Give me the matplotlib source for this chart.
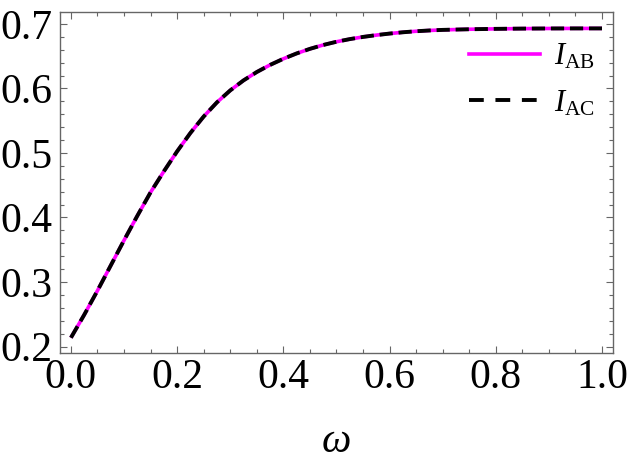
import matplotlib
matplotlib.use("Agg")
import matplotlib.pyplot as plt
from matplotlib.lines import Line2D
from matplotlib.ticker import MultipleLocator

# values
omega = [0.000, 0.025, 0.050, 0.075, 0.100, 0.125, 0.150, 0.175, 0.200,
         0.225, 0.250, 0.275, 0.300, 0.325, 0.350, 0.375, 0.400, 0.425,
         0.450, 0.475, 0.500, 0.525, 0.550, 0.575, 0.600, 0.625, 0.650,
         0.675, 0.700, 0.750, 0.800, 0.850, 0.900, 0.950, 1.000]
I_AB = [0.2136, 0.2491, 0.2866, 0.3256, 0.3646, 0.4025, 0.4390, 0.4715,
        0.5025, 0.5310, 0.5565, 0.5785, 0.5970, 0.6125, 0.6255, 0.6365,
        0.6460, 0.6543, 0.6614, 0.6674, 0.6724, 0.6765, 0.6799, 0.6827,
        0.6851, 0.6871, 0.6887, 0.6899, 0.6908, 0.6918, 0.6924, 0.6928,
        0.6930, 0.6931, 0.6931]
I_AC = list(I_AB)

plt.rcParams["font.family"] = ["Liberation Serif", "DejaVu Serif"]
plt.rcParams["mathtext.fontset"] = "custom"
plt.rcParams["mathtext.rm"] = "Liberation Serif"
plt.rcParams["mathtext.it"] = "Liberation Serif:italic"

fig = plt.figure(figsize=(6.31, 4.69), dpi=100)
ax = fig.add_axes([59.5 / 631, 1 - 352.5 / 469, 553 / 631, 340.8 / 469])

ax.plot(omega, I_AB, color="#ff00ff", lw=2.6, solid_capstyle="butt")
ax.plot(omega, I_AC, color="black", lw=2.8, dashes=(3.4, 1.5))

ax.set_xlim(-0.0215, 1.0198)
ax.set_ylim(0.1907, 0.7190)
ax.xaxis.set_major_locator(MultipleLocator(0.2))
ax.xaxis.set_minor_locator(MultipleLocator(0.05))
ax.yaxis.set_major_locator(MultipleLocator(0.1))
ax.yaxis.set_minor_locator(MultipleLocator(0.02))
ax.xaxis.set_major_formatter(plt.FormatStrFormatter("%.1f"))
ax.yaxis.set_major_formatter(plt.FormatStrFormatter("%.1f"))

for s in ax.spines.values():
    s.set_color("#666666")
    s.set_linewidth(1.0)
ax.tick_params(which="both", direction="in", top=True, right=True,
               color="#666666", width=0.8, labelsize=30)
ax.tick_params(which="major", length=5)
ax.tick_params(which="minor", length=3)
ax.tick_params(axis="x", pad=4)
ax.tick_params(axis="y", pad=5)

ax.set_xlabel(r"$\omega$", fontsize=30, labelpad=19)

handles = [Line2D([], [], color="#ff00ff", lw=2.6),
           Line2D([], [], color="black", lw=2.8, dashes=(3.8, 3.0))]
ax.legend(handles, [r"$I_{\mathrm{AB}}$", r"$I_{\mathrm{AC}}$"],
          loc="upper right", bbox_to_anchor=(1.017, 0.991), frameon=False,
          fontsize=22, handlelength=2.3, handletextpad=0.46,
          labelspacing=0.55)

fig.savefig("out.png", dpi=100)
